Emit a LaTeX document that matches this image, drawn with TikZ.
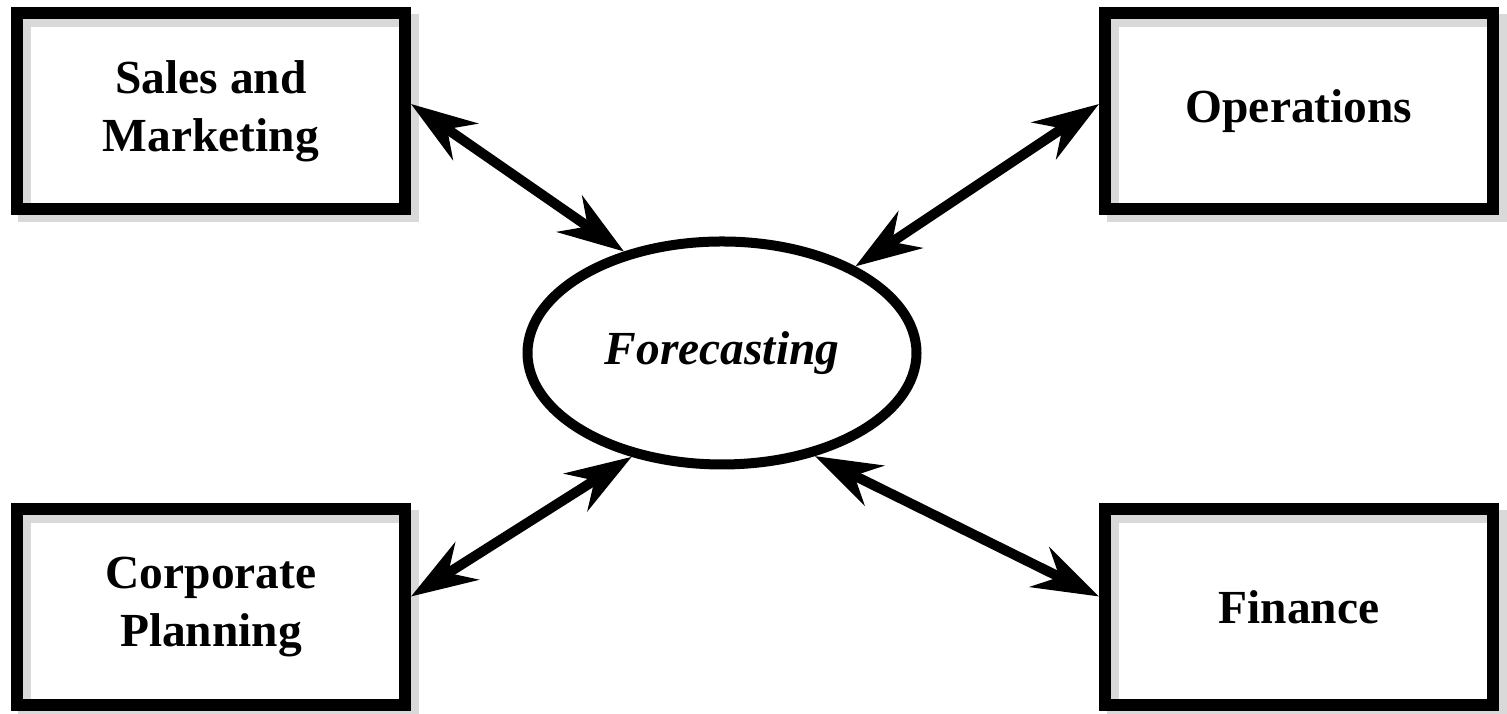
\documentclass[tikz,border=0pt]{standalone}
\usepackage{fontspec}
\setmainfont{Liberation Serif}
\usetikzlibrary{arrows.meta,shapes.geometric,shadows}

\begin{document}
\begin{tikzpicture}[font=\fontsize{13.5}{16.5}\selectfont\bfseries,
  dept/.style={draw,line width=.12cm,fill=white,minimum width=3.88cm,minimum height=1.96cm,
    align=center,inner sep=0pt,
    drop shadow={shadow xshift=.075cm,shadow yshift=-.075cm,fill=black!15,draw=black!15,opacity=1},
    path picture={\draw[black!15,line width=.28cm] (path picture bounding box.south west)
      |- (path picture bounding box.north east);}},
  hub/.style={ellipse,draw,line width=.1cm,fill=white,minimum width=3.89cm,minimum height=2.23cm,
    inner sep=0pt,font=\fontsize{13.5}{16.5}\selectfont\bfseries\itshape},
  link/.style={line width=.1cm,{Stealth[length=.66cm,width=.44cm,inset=.22cm]}-{Stealth[length=.66cm,width=.44cm,inset=.22cm]}}]
  \useasboundingbox (0,0) rectangle (15.07,7.14);

  \node[dept] (sales) at (2.11,6.03) {Sales and\\Marketing};
  \node[dept] (ops) at (12.99,6.03) {Operations};
  \node[dept] (corp) at (2.11,1.07) {Corporate\\Planning};
  \node[dept] (fin) at (12.99,1.07) {Finance};
  \node[hub] (fc) at (7.22,3.61) {Forecasting};

  \draw[link] (sales.2) -- (fc.134);
  \draw[link] (ops.178) -- (fc.33);
  \draw[link] (corp.3) -- (fc.229);
  \draw[link] (fin.177) -- (fc.312);
\end{tikzpicture}
\end{document}
